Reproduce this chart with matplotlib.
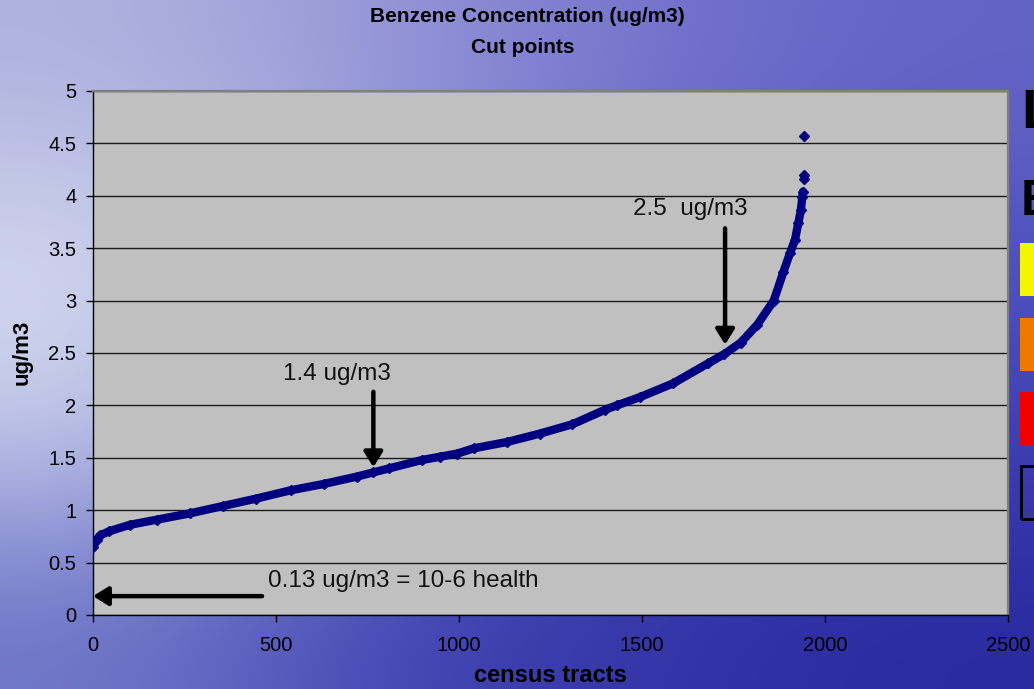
import matplotlib
matplotlib.use('Agg')
import matplotlib.pyplot as plt
import numpy as np
from matplotlib.patches import Rectangle

plt.rcParams['font.family'] = ['Liberation Sans', 'DejaVu Sans']

# ---------------- data ----------------
tracts = [0, 10, 20, 45, 100, 175, 265, 355, 445, 540, 630, 720, 765, 810,
          900, 948, 995, 1040, 1130, 1220, 1310, 1400, 1431, 1495, 1585, 1680,
          1725, 1770, 1815, 1860, 1886, 1904, 1918, 1927, 1934, 1938, 1940]
conc = [0.65, 0.72, 0.76, 0.80, 0.86, 0.91, 0.97, 1.04, 1.11, 1.19, 1.25, 1.32, 1.36, 1.40,
        1.48, 1.51, 1.54, 1.59, 1.65, 1.73, 1.82, 1.96, 2.00, 2.08, 2.21, 2.40,
        2.49, 2.60, 2.77, 3.00, 3.27, 3.45, 3.58, 3.74, 3.86, 3.99, 4.04]
top_tracts = [1943, 1943, 1943]
top_conc = [4.16, 4.20, 4.57]

x_ticks = [0, 500, 1000, 1500, 2000, 2500]
x_tick_labels = ['0', '500', '1000', '1500', '2000', '2500']
y_ticks = [0, 0.5, 1, 1.5, 2, 2.5, 3, 3.5, 4, 4.5, 5]
y_tick_labels = ['0', '0.5', '1', '1.5', '2', '2.5', '3', '3.5', '4', '4.5', '5']

title_lines = ['Benzene Concentration (ug/m3)', 'Cut points']
x_label = 'census tracts'
y_label = 'ug/m3'

cut_texts = ['0.13 ug/m3 = 10-6 health', '1.4 ug/m3', '2.5  ug/m3']
cut_text_pos = [(478, 0.27), (519, 2.24), (1475, 3.82)]
cut_arrow_from = [(462, 0.18), (766, 2.13), (1727, 3.69)]
cut_arrow_to = [(0, 0.18), (766, 1.41), (1727, 2.58)]

legend_letters = ['L', 'B']
legend_colors = ['#F5F500', '#F07800', '#F00000', 'none']

# ---------------- figure ----------------
W, H = 1034, 689
fig = plt.figure(figsize=(W / 100, H / 100), dpi=100)

# slide background gradient
bg = fig.add_axes([0, 0, 1, 1], zorder=0)
bg.set_axis_off()
anchors = np.array([
    [[175, 178, 222], [150, 150, 215], [115, 115, 205], [100, 100, 198]],
    [[215, 220, 240], [150, 155, 215], [95, 95, 195], [80, 80, 190]],
    [[200, 205, 235], [110, 115, 200], [75, 75, 185], [65, 65, 180]],
    [[110, 118, 200], [65, 68, 178], [52, 52, 168], [42, 42, 160]],
], dtype=float) / 255.0
bg.imshow(anchors, extent=[0, 1, 0, 1], aspect='auto', interpolation='bicubic',
          origin='upper')
bg.set_xlim(0, 1)
bg.set_ylim(0, 1)

def fx(px):
    return px / W

def fy(py):
    return 1 - py / H

ax = fig.add_axes([fx(93), fy(615), fx(1008) - fx(93), fy(91) - fy(615)], zorder=1)
ax.set_facecolor('#C0C0C0')
ax.set_xlim(0, 2500)
ax.set_ylim(0, 5)
ax.set_axisbelow(True)
ax.yaxis.grid(True, color='#1a1a1a', lw=1.0)
ax.set_xticks(x_ticks)
ax.set_xticklabels(x_tick_labels)
ax.set_yticks(y_ticks)
ax.set_yticklabels(y_tick_labels)
ax.tick_params(axis='both', direction='out', length=5, width=1, color='black',
               labelsize=14.5, labelcolor='black')
ax.tick_params(axis='x', pad=10)
ax.tick_params(axis='y', pad=7)
for s in ['left', 'bottom']:
    ax.spines[s].set_color('black')
    ax.spines[s].set_linewidth(1.0)
for s in ['top', 'right']:
    ax.spines[s].set_color('#808080')
    ax.spines[s].set_linewidth(1.6)

ax.plot(tracts, conc, color='#000080', lw=6, marker='D', markersize=5,
        solid_capstyle='round', solid_joinstyle='round', zorder=3)
ax.plot(top_tracts, top_conc, linestyle='none', color='#000080', marker='D',
        markersize=5, zorder=3)

for t, p, a, b in zip(cut_texts, cut_text_pos, cut_arrow_from, cut_arrow_to):
    ax.text(p[0], p[1], t, fontsize=17.5, color='#111111', ha='left', va='baseline', zorder=4)
    ax.annotate('', xy=b, xytext=a,
                arrowprops=dict(arrowstyle='-|>,head_length=0.45,head_width=0.28',
                                mutation_scale=20, lw=3.2, color='black',
                                shrinkA=0, shrinkB=0), zorder=4)

# titles / labels
fig.text(fx(527), fy(21.7), title_lines[0], fontsize=15, fontweight='bold',
         ha='center', va='baseline', color='black')
fig.text(fx(523), fy(53.3), title_lines[1], fontsize=15, fontweight='bold',
         ha='center', va='baseline', color='black')
fig.text(fx(550), fy(682), x_label, fontsize=17, fontweight='bold',
         ha='center', va='baseline', color='black')
fig.text(fx(22), fy(352), y_label, fontsize=16, fontweight='bold', rotation=90,
         ha='center', va='center', color='black')

# clipped legend fragments at the right edge
fig.text(fx(1021), fy(128), legend_letters[0], fontsize=40, fontweight='bold',
         ha='left', va='baseline', color='black')
fig.text(fx(1021), fy(215), legend_letters[1], fontsize=36, fontweight='bold',
         ha='left', va='baseline', color='black')
box_tops = [243, 318, 392, 466]
for c, top in zip(legend_colors, box_tops):
    if c == 'none':
        fig.patches.append(Rectangle((fx(1021), fy(top + 53)), fx(40), 53 / H,
                                     transform=fig.transFigure, facecolor='none',
                                     edgecolor='black', lw=2, zorder=2))
    else:
        fig.patches.append(Rectangle((fx(1020), fy(top + 53)), fx(40), 53 / H,
                                     transform=fig.transFigure, facecolor=c,
                                     edgecolor='none', zorder=2))

fig.savefig('out.png', dpi=100)
